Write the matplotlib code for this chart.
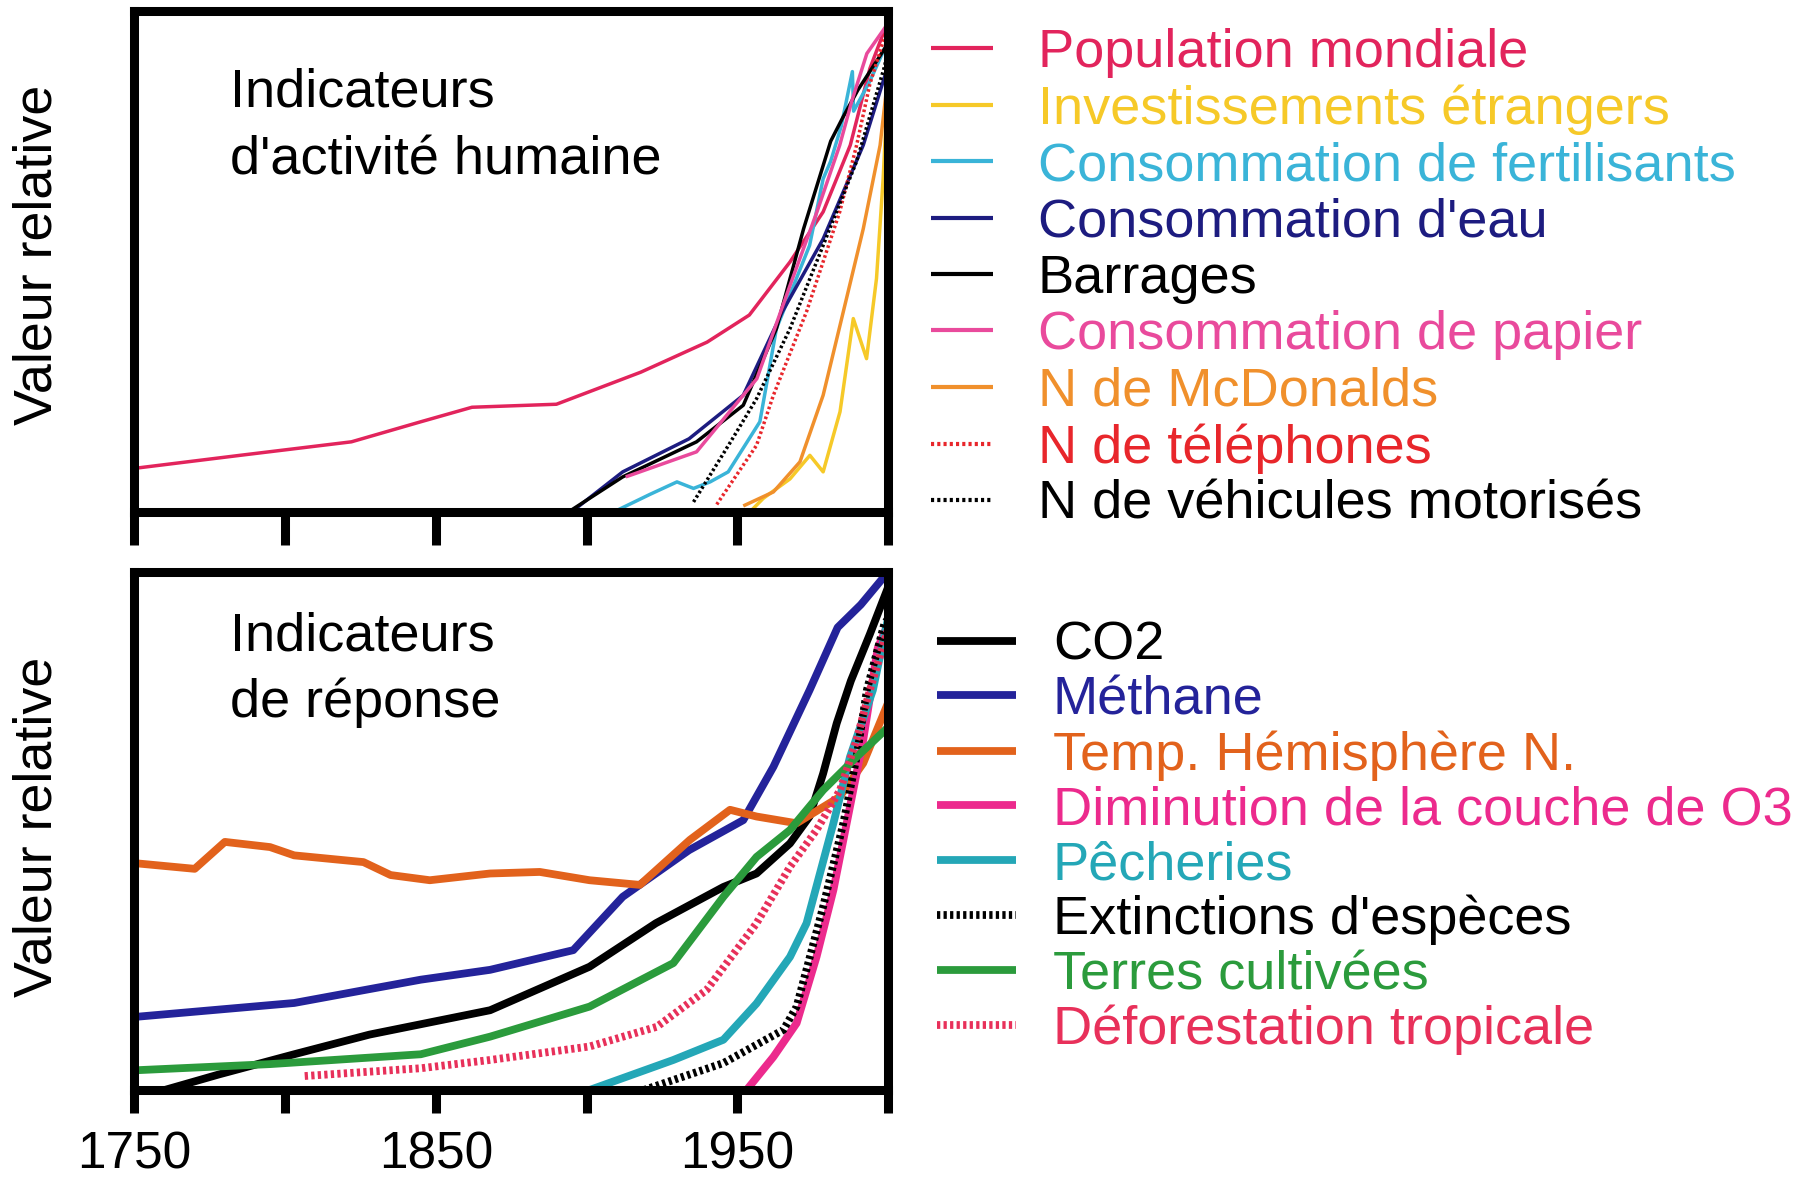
import matplotlib
matplotlib.use("Agg")
import matplotlib.pyplot as plt

# ---------------- data (relative values, 0..1) ----------------
tick_years = [1750, 1800, 1850, 1900, 1950, 2000]
tick_labels_bottom = ["1750", "", "1850", "", "1950", ""]

# Top panel: human activity indicators
pop_years = [1750, 1785, 1822, 1845, 1862, 1890, 1918, 1940, 1954, 1967.5, 1978.5, 1987.5, 1994, 2000]
pop_vals = [0.087, 0.113, 0.14, 0.18, 0.209, 0.215, 0.279, 0.339, 0.393, 0.499, 0.599, 0.732, 0.885, 0.98]

inv_years = [1955, 1958.6, 1967.5, 1974.1, 1978.5, 1984.1, 1988.5, 1992.9, 1996.2, 1998.4, 2000]
inv_vals = [0.005, 0.027, 0.066, 0.113, 0.08, 0.20, 0.386, 0.306, 0.466, 0.665, 0.86]

fert_years = [1909, 1921, 1930, 1935.5, 1941, 1947, 1957.5, 1963, 1974, 1978.5, 1981, 1984.5, 1988.2, 1988.6, 1994, 2000]
fert_vals = [0.0, 0.035, 0.06, 0.047, 0.06, 0.08, 0.18, 0.366, 0.532, 0.665, 0.70, 0.77, 0.879, 0.80, 0.86, 0.94]

eau_years = [1895, 1912, 1934, 1952, 1965, 1978.5, 1991.8, 2000]
eau_vals = [0.0, 0.08, 0.146, 0.233, 0.40, 0.545, 0.732, 0.89]

barr_years = [1894, 1912, 1936.5, 1952, 1963, 1972, 1981, 1985, 1990, 2000]
barr_vals = [0.0, 0.07, 0.14, 0.213, 0.366, 0.565, 0.74, 0.787, 0.842, 0.935]

pap_years = [1913, 1936.5, 1956.5, 1967.5, 1976.5, 1984, 1988, 1993, 2000]
pap_vals = [0.07, 0.12, 0.266, 0.452, 0.60, 0.732, 0.82, 0.915, 0.975]

mcd_years = [1952, 1962, 1970.8, 1978.5, 1985.2, 1991.8, 1997.4, 2000]
mcd_vals = [0.012, 0.04, 0.10, 0.233, 0.40, 0.565, 0.732, 0.87]

tel_years = [1943.2, 1956.4, 1962, 1973, 1984, 1989.6, 1994, 2000]
tel_vals = [0.015, 0.133, 0.233, 0.40, 0.599, 0.732, 0.854, 0.97]

veh_years = [1935.5, 1947.8, 1956.4, 1967.5, 1978.5, 1989.6, 1998.8, 2000]
veh_vals = [0.02, 0.14, 0.226, 0.366, 0.532, 0.70, 0.888, 0.92]

# Bottom panel: response indicators
co2_years = [1760, 1778, 1803, 1828, 1868, 1901, 1923, 1945.4, 1956.4, 1967.5, 1974, 1978.5, 1983, 1987.7, 1994, 2000]
co2_vals = [0.0, 0.03, 0.069, 0.107, 0.154, 0.238, 0.322, 0.392, 0.418, 0.476, 0.528, 0.611, 0.708, 0.79, 0.88, 0.97]

meth_years = [1750, 1803, 1845, 1868, 1895.6, 1912, 1934, 1952, 1962, 1974, 1983.3, 1991, 1999]
meth_vals = [0.141, 0.168, 0.213, 0.232, 0.27, 0.373, 0.463, 0.521, 0.624, 0.772, 0.893, 0.937, 0.993]

temp_years = [1750, 1770, 1780, 1795, 1803, 1826, 1835, 1848, 1868, 1884.5, 1901, 1917.7, 1934.3, 1947.6, 1956.4, 1969.7, 1984, 1991.8, 2000]
temp_vals = [0.438, 0.427, 0.479, 0.469, 0.453, 0.44, 0.415, 0.405, 0.418, 0.421, 0.405, 0.396, 0.483, 0.541, 0.528, 0.515, 0.566, 0.631, 0.747]

oz_years = [1953.1, 1962, 1969.7, 1976.3, 1981.9, 1987.4, 1991.8, 1996.6, 2000]
oz_vals = [0.0, 0.064, 0.129, 0.257, 0.386, 0.547, 0.676, 0.853, 0.90]

pech_years = [1901, 1928.8, 1945.4, 1956.4, 1967.5, 1973, 1981.9, 1987.4, 1995, 2000]
pech_vals = [0.0, 0.058, 0.097, 0.167, 0.257, 0.322, 0.515, 0.643, 0.772, 0.91]

ext_years = [1919, 1945.4, 1965.3, 1969.7, 1974.1, 1978.5, 1985.2, 1989.6, 1993, 1998.8, 2000]
ext_vals = [0.0, 0.052, 0.116, 0.161, 0.257, 0.354, 0.515, 0.643, 0.772, 0.90, 0.91]

terr_years = [1750, 1795, 1845, 1868, 1901, 1928.8, 1945.4, 1956.4, 1967.5, 1978.5, 1989.6, 2000]
terr_vals = [0.038, 0.05, 0.069, 0.103, 0.161, 0.245, 0.373, 0.45, 0.502, 0.579, 0.643, 0.70]

def_years = [1806.5, 1845, 1868, 1901, 1923.3, 1939.8, 1956.4, 1967.5, 1976.3, 1984.1, 1989.6, 1994, 2000]
def_vals = [0.027, 0.042, 0.058, 0.084, 0.122, 0.193, 0.322, 0.431, 0.502, 0.579, 0.676, 0.772, 0.89]

# ---------------- styling ----------------
FONT = "Liberation Sans"
plt.rcParams['font.family'] = [FONT, 'DejaVu Sans']

fig = plt.figure(figsize=(18.14, 11.78), dpi=100)
fig.patch.set_facecolor("white")

ax1 = fig.add_axes([0.0741, 0.5654, 0.4154, 0.4253])
ax2 = fig.add_axes([0.0741, 0.0747, 0.4154, 0.4397])

LW_TOP = 2.5
LW_BOT = 5.6
dot_top = (0, (0.75, 0.75))
dot_bot = (0, (0.42, 0.42))

top_series = [
    (pop_years, pop_vals, "#e2245c", "-", "Population mondiale"),
    (inv_years, inv_vals, "#f6c928", "-", "Investissements étrangers"),
    (fert_years, fert_vals, "#3ab4d8", "-", "Consommation de fertilisants"),
    (eau_years, eau_vals, "#1d1c80", "-", "Consommation d'eau"),
    (barr_years, barr_vals, "#000000", "-", "Barrages"),
    (pap_years, pap_vals, "#e94a9c", "-", "Consommation de papier"),
    (mcd_years, mcd_vals, "#f0902c", "-", "N de McDonalds"),
    (tel_years, tel_vals, "#e8262b", dot_top, "N de téléphones"),
    (veh_years, veh_vals, "#000000", dot_top, "N de véhicules motorisés"),
]

bot_series = [
    (co2_years, co2_vals, "#000000", "-", "CO2"),
    (meth_years, meth_vals, "#24239a", "-", "Méthane"),
    (temp_years, temp_vals, "#e2621c", "-", "Temp. Hémisphère N."),
    (oz_years, oz_vals, "#ec2a8d", "-", "Diminution de la couche de O3"),
    (pech_years, pech_vals, "#24a7b7", "-", "Pêcheries"),
    (ext_years, ext_vals, "#000000", dot_bot, "Extinctions d'espèces"),
    (terr_years, terr_vals, "#2b9b3c", "-", "Terres cultivées"),
    (def_years, def_vals, "#e8305a", dot_bot, "Déforestation tropicale"),
]

top_handles = []
for yrs, vals, col, ls, lab in top_series:
    h, = ax1.plot(yrs, vals, color=col, lw=LW_TOP, linestyle=ls, label=lab,
                  solid_capstyle='butt', dash_capstyle='butt')
    top_handles.append(h)

bot_handles = []
for yrs, vals, col, ls, lab in bot_series:
    h, = ax2.plot(yrs, vals, color=col, lw=LW_BOT, linestyle=ls, label=lab,
                  solid_capstyle='butt', dash_capstyle='butt')
    bot_handles.append(h)

for ax, tlen in ((ax1, 24), (ax2, 16.5)):
    ax.set_xlim(1750, 2000)
    ax.set_ylim(0, 1)
    ax.set_yticks([])
    ax.set_xticks(tick_years)
    for sp in ax.spines.values():
        sp.set_linewidth(6.5)
        sp.set_color("black")
    ax.tick_params(axis='x', direction='out', length=tlen, width=6.5, color='black',
                   labelsize=37, pad=13)

ax1.set_xticklabels([""] * len(tick_years))
ax2.set_xticklabels(tick_labels_bottom)
for lab in ax2.get_xticklabels():
    lab.set_fontfamily(FONT)

# inset titles
TS = 39
ax1.text(0.127, 0.810, "Indicateurs", transform=ax1.transAxes, fontsize=TS,
         ha='left', va='baseline', family=FONT)
ax1.text(0.127, 0.673, "d'activité humaine", transform=ax1.transAxes, fontsize=TS,
         ha='left', va='baseline', family=FONT)
ax2.text(0.127, 0.848, "Indicateurs", transform=ax2.transAxes, fontsize=TS,
         ha='left', va='baseline', family=FONT)
ax2.text(0.127, 0.720, "de réponse", transform=ax2.transAxes, fontsize=TS,
         ha='left', va='baseline', family=FONT)

# y labels
fig.text(0.0205, 0.7835, "Valeur relative", rotation=90, ha='center', va='center',
         fontsize=38.8, family=FONT)
fig.text(0.0205, 0.298, "Valeur relative", rotation=90, ha='center', va='center',
         fontsize=38.8, family=FONT)

# legends
LS = 39
leg1 = ax1.legend(handles=top_handles, loc='upper left',
                  bbox_to_anchor=(0.5132, 0.9764), bbox_transform=fig.transFigure,
                  frameon=False, borderpad=0, borderaxespad=0,
                  handlelength=1.14, handletextpad=0.83, labelspacing=0.118,
                  labelcolor='linecolor', prop={'family': FONT, 'size': LS})
for line in leg1.get_lines():
    line.set_linewidth(3.0)

leg2 = ax2.legend(handles=bot_handles, loc='upper left',
                  bbox_to_anchor=(0.5165, 0.4732), bbox_transform=fig.transFigure,
                  frameon=False, borderpad=0, borderaxespad=0,
                  handlelength=1.46, handletextpad=0.68, labelspacing=0.088,
                  labelcolor='linecolor', prop={'family': FONT, 'size': LS})
for line in leg2.get_lines():
    line.set_linewidth(5.6)

fig.savefig("out.png", dpi=100, facecolor="white")
